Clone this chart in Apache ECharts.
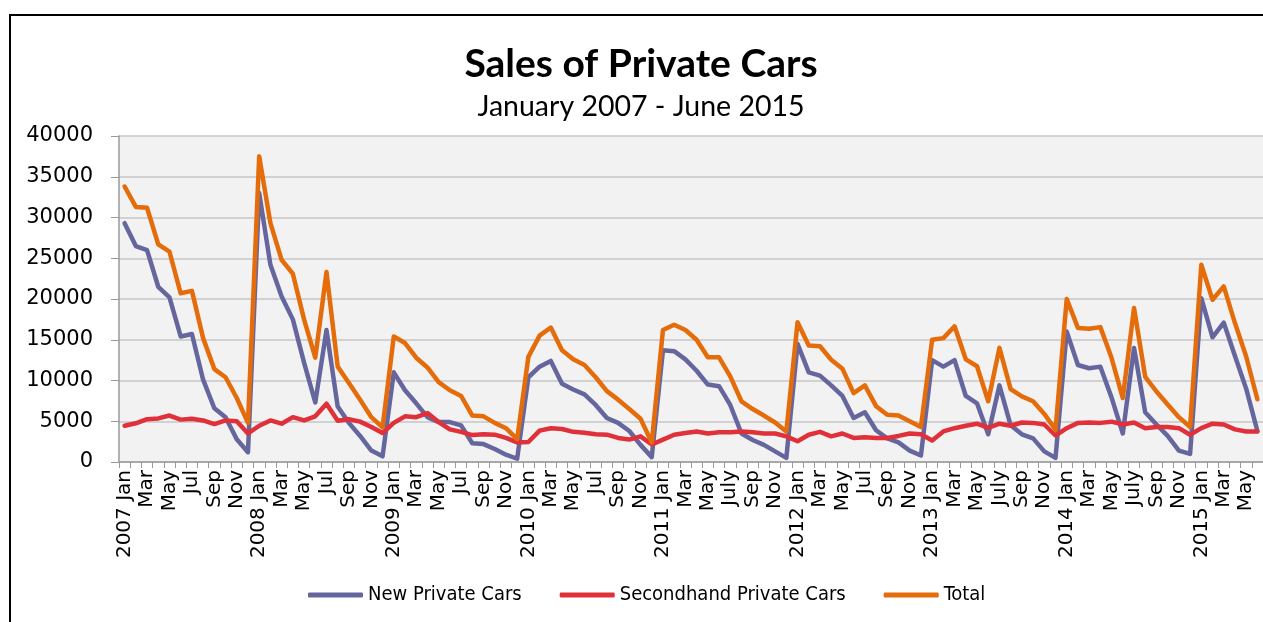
<!DOCTYPE html>
<html>
<head>
<meta charset="utf-8">
<title>Sales of Private Cars</title>
<script src="https://cdn.jsdelivr.net/npm/echarts@6/dist/echarts.min.js"></script>
<style>
  html, body { margin: 0; padding: 0; background: #fff; }
  #chart { width: 1263px; height: 622px; }
</style>
</head>
<body>
<div id="chart"></div>
<script>
// month labels (every other one is shown on the axis)
const months = [
  '2007 Jan','Feb','Mar','Apr','May','Jun','Jul','Aug','Sep','Oct','Nov','Dec',
  '2008 Jan','Feb','Mar','Apr','May','Jun','Jul','Aug','Sep','Oct','Nov','Dec',
  '2009 Jan','Feb','Mar','Apr','May','Jun','Jul','Aug','Sep','Oct','Nov','Dec',
  '2010 Jan','Feb','Mar','Apr','May','Jun','Jul','Aug','Sep','Oct','Nov','Dec',
  '2011 Jan','Feb','Mar','Apr','May','Jun','July','Aug','Sep','Oct','Nov','Dec',
  '2012 Jan','Feb','Mar','Apr','May','Jun','Jul','Aug','Sep','Oct','Nov','Dec',
  '2013 Jan','Feb','Mar','Apr','May','Jun','July','Aug','Sep','Oct','Nov','Dec',
  '2014 Jan','Feb','Mar','Apr','May','Jun','July','Aug','Sep','Oct','Nov','Dec',
  '2015 Jan','Feb','Mar','Apr','May','Jun'
]

const newCars = [
  29300, 26500, 26000, 21500, 20200, 15400, 15700, 10100, 6600, 5500, 2800, 1200,
  33000, 24200, 20300, 17500, 12200, 7300, 16200, 6800, 4800, 3200, 1400, 700,
  11000, 8800, 7200, 5500, 4900, 4900, 4500, 2300, 2200, 1600, 900, 400,
  10400, 11700, 12400, 9600, 8900, 8300, 7000, 5400, 4800, 3800, 2100, 600,
  13700, 13600, 12600, 11200, 9500, 9300, 7000, 3500, 2700, 2100, 1300, 500,
  14500, 11000, 10600, 9400, 8100, 5400, 6100, 3900, 2900, 2400, 1400, 800,
  12500, 11700, 12500, 8100, 7200, 3400, 9400, 4500, 3400, 2900, 1300, 500,
  16000, 11900, 11500, 11700, 7900, 3500, 14000, 6100, 4600, 3200, 1400, 1000,
  20100, 15300, 17100, 13000, 9000, 3800
]

const secondhandCars = [
  4450, 4750, 5250, 5350, 5700, 5200, 5300, 5100, 4650, 5100, 5000, 3500,
  4450, 5100, 4700, 5500, 5100, 5600, 7150, 5050, 5250, 4950, 4300, 3550,
  4800, 5600, 5500, 6000, 4900, 4000, 3700, 3300, 3400, 3350, 2950, 2400,
  2450, 3850, 4150, 4050, 3700, 3600, 3400, 3350, 2950, 2750, 3150, 2150,
  2750, 3350, 3550, 3750, 3500, 3650, 3650, 3750, 3650, 3500, 3500, 3150,
  2550, 3350, 3700, 3150, 3500, 2950, 3050, 2950, 2950, 3200, 3500, 3400,
  2650, 3750, 4150, 4450, 4700, 4200, 4700, 4450, 4850, 4800, 4600, 3250,
  4150, 4800, 4850, 4800, 4950, 4600, 4850, 4150, 4300, 4300, 4150, 3350,
  4150, 4700, 4600, 4000, 3750, 3750
]

const totalCars = [
  33800, 31300, 31200, 26700, 25800, 20700, 21000, 15200, 11400, 10400, 7850, 4800,
  37500, 29300, 24800, 23100, 17500, 12800, 23300, 11700, 9700, 7650, 5500, 4250,
  15400, 14600, 12800, 11600, 9800, 8800, 8100, 5700, 5600, 4800, 4150, 2800,
  12900, 15500, 16500, 13700, 12600, 11900, 10400, 8700, 7650, 6500, 5300, 2400,
  16200, 16850, 16200, 15000, 12850, 12850, 10500, 7450, 6500, 5700, 4850, 3750,
  17150, 14300, 14200, 12550, 11450, 8450, 9400, 6850, 5800, 5700, 5000, 4300,
  15000, 15200, 16650, 12600, 11750, 7450, 14000, 8950, 8050, 7450, 5900, 3950,
  20000, 16450, 16350, 16550, 12750, 7850, 18900, 10450, 8650, 7050, 5500, 4300,
  24200, 19900, 21550, 17050, 12950, 7700
]

const seriesNames = ['New Private Cars', 'Secondhand Private Cars', 'Total']
const seriesColors = ['#66669e', '#e0303a', '#e46c0a']

const myChart = echarts.init(document.getElementById('chart'))

const makeLine = (name, data, color) => ({
  name: name,
  type: 'line',
  data: data,
  symbol: 'none',
  color: color,
  lineStyle: { width: 4.5, color: color, cap: 'round', join: 'round' },
  emphasis: { disabled: true }
})

const options = {
  animation: false,
  // outer frame + titles
  graphic: [
    {
      type: 'rect',
      shape: { x: 10, y: 15, width: 1300, height: 700 },
      style: { fill: 'none', stroke: '#000', lineWidth: 2 },
      z: -1
    },
    {
      type: 'text',
      x: 641, y: 64,
      style: {
        text: 'Sales of Private Cars',
        font: 'bold 39px Lato, "Open Sans", sans-serif',
        fill: '#000',
        align: 'center',
        verticalAlign: 'middle'
      }
    },
    {
      type: 'text',
      x: 641, y: 107,
      style: {
        text: 'January 2007 - June 2015',
        font: '28.5px Lato, "Open Sans", sans-serif',
        fill: '#000',
        align: 'center',
        verticalAlign: 'middle'
      }
    }
  ],
  legend: {
    data: seriesNames,
    left: 308,
    top: 585,
    padding: 0,
    itemWidth: 55,
    itemHeight: 5,
    itemGap: 38,
    icon: 'roundRect',
    textStyle: {
      fontSize: 20,
      fontFamily: '"Liberation Sans Narrow", "DejaVu Sans Condensed", sans-serif',
      color: '#000',
      padding: [0, 0, 0, 0]
    }
  },
  grid: {
    left: 119,
    right: 0,
    top: 136,
    bottom: 160,
    show: true,
    backgroundColor: '#f2f2f2',
    borderWidth: 0,
    containLabel: false
  },
  xAxis: {
    type: 'category',
    data: months,
    boundaryGap: true,
    axisLine: { lineStyle: { color: '#9a9a9a', width: 1.5 } },
    axisTick: { show: true, interval: 0, length: 6, lineStyle: { color: '#9a9a9a', width: 1 } },
    axisLabel: {
      interval: 1,
      rotate: 90,
      margin: 8,
      fontSize: 20,
      fontFamily: '"DejaVu Sans", sans-serif',
      color: '#000'
    },
    splitLine: { show: false }
  },
  yAxis: {
    type: 'value',
    min: 0,
    max: 40000,
    interval: 5000,
    axisLine: { show: true, lineStyle: { color: '#9a9a9a', width: 1.5 } },
    axisTick: { show: true, length: 8, lineStyle: { color: '#9a9a9a' } },
    axisLabel: {
      margin: 26,
      fontSize: 21,
      fontFamily: '"DejaVu Sans", sans-serif',
      color: '#000',
      formatter: (v) => String(v)
    },
    splitLine: { lineStyle: { color: '#c6c6c6', width: 1.5 } }
  },
  series: [
    makeLine(seriesNames[0], newCars, seriesColors[0]),
    makeLine(seriesNames[1], secondhandCars, seriesColors[1]),
    makeLine(seriesNames[2], totalCars, seriesColors[2])
  ]
}

myChart.setOption(options)
</script>
</body>
</html>
